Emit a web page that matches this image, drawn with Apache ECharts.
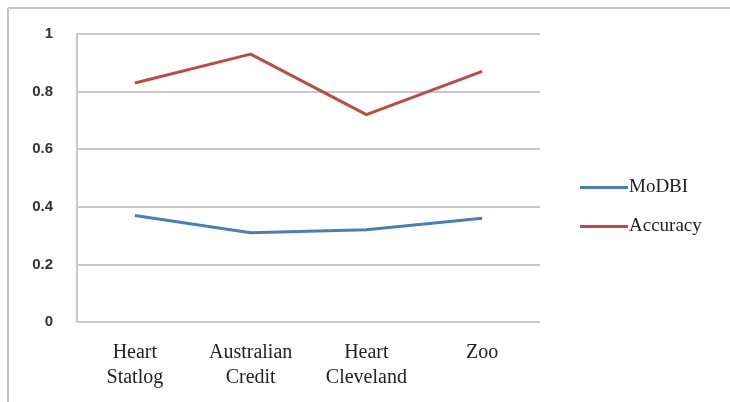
<!DOCTYPE html>
<html>
<head>
<meta charset="utf-8">
<script src="https://cdn.jsdelivr.net/npm/echarts@6/dist/echarts.min.js"></script>
<style>
  html, body { margin: 0; padding: 0; background: #ffffff; }
  #chart { width: 730px; height: 402px; }
</style>
</head>
<body>
<div id="chart"></div>
<script>
// Datasets on the x axis
const categories = ['Heart\nStatlog', 'Australian\nCredit', 'Heart\nCleveland', 'Zoo'];
// Series values
const modbi = [0.37, 0.31, 0.32, 0.36];
const accuracy = [0.83, 0.93, 0.72, 0.87];
// Y axis range
const yMin = 0, yMax = 1, yStep = 0.2;

const chart = echarts.init(document.getElementById('chart'), null, { renderer: 'canvas' });

chart.setOption({
  backgroundColor: '#ffffff',
  animation: false,
  grid: { left: 77, top: 34, width: 463, height: 288, containLabel: false },
  graphic: [
    // outer frame (top and left edges)
    { type: 'line', shape: { x1: 8, y1: 8, x2: 730, y2: 8 }, style: { stroke: '#c4c4c4', lineWidth: 2 } },
    { type: 'line', shape: { x1: 8, y1: 8, x2: 8, y2: 402 }, style: { stroke: '#c4c4c4', lineWidth: 2 } }
  ],
  legend: {
    orient: 'vertical',
    left: 575,
    top: 173,
    icon: 'rect',
    itemWidth: 48,
    itemHeight: 3,
    itemGap: 20,
    textStyle: { fontFamily: 'Liberation Serif', fontSize: 19, color: '#222', padding: [0, 0, 0, -4] },
    data: ['MoDBI', 'Accuracy']
  },
  xAxis: {
    type: 'category',
    data: categories,
    boundaryGap: true,
    axisLine: { show: false },
    axisTick: { show: false },
    axisLabel: {
      margin: 18,
      fontFamily: 'Liberation Serif',
      fontSize: 20,
      lineHeight: 25,
      color: '#222',
      interval: 0
    }
  },
  yAxis: {
    type: 'value',
    min: yMin,
    max: yMax,
    interval: yStep,
    axisLine: { show: true, lineStyle: { color: '#c8c8c8', width: 2 } },
    axisTick: { show: false },
    splitLine: { show: true, lineStyle: { color: '#c8c8c8', width: 2 } },
    axisLabel: {
      margin: 24,
      fontFamily: 'Liberation Sans',
      fontSize: 15,
      fontWeight: 'bold',
      color: '#333',
      formatter: v => String(Math.round(v * 10) / 10)
    }
  },
  series: [
    {
      name: 'MoDBI',
      type: 'line',
      data: modbi,
      symbol: 'none',
      lineStyle: { color: '#4a7ebb', width: 3 },
      itemStyle: { color: '#4a7ebb' }
    },
    {
      name: 'Accuracy',
      type: 'line',
      data: accuracy,
      symbol: 'none',
      lineStyle: { color: '#be4b48', width: 3 },
      itemStyle: { color: '#be4b48' }
    }
  ]
});
</script>
</body>
</html>
